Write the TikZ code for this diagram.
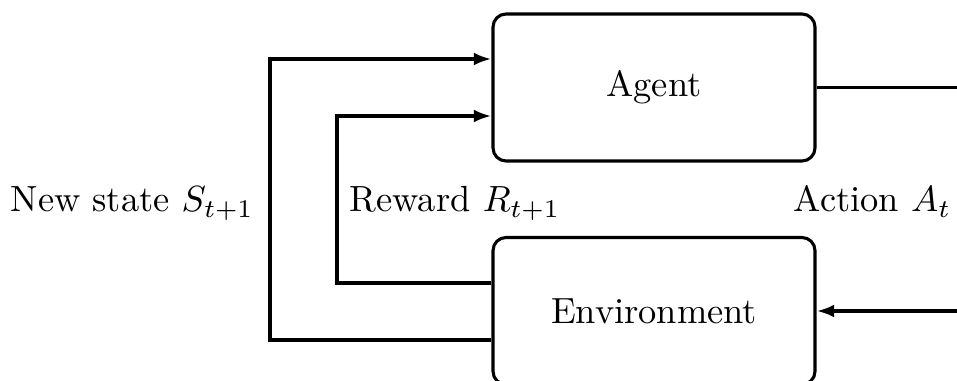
\documentclass[tikz,border=0pt]{standalone}
\usetikzlibrary{arrows.meta}
\begin{document}
\begin{tikzpicture}[x=0.2747pt,y=-0.2747pt,
  box/.style={draw, line width=0.85pt, rounded corners=3.6pt,
    minimum width=88.45pt, minimum height=40.4pt, inner sep=0pt},
  conn/.style={line width=0.95pt},
  arr/.style={conn, -{Latex[length=4.8pt,width=3.5pt]}},
  lbl/.style={anchor=base west, inner sep=0pt}]
\useasboundingbox (0,0) rectangle (957,381);
\node[box] (agent) at (654,87.5) {Agent};
\node[box] (env) at (654,311) {Environment};
\coordinate (ob) at (270,340);
\coordinate (ot) at (270,59);
\coordinate (ib) at (337,283);
\coordinate (it) at (337,116);
\coordinate (ar) at (957,87.5);
\coordinate (er) at (957,311);
\draw[arr] (env.west |- ob) -- (ob) -- (ot) -- (agent.west |- ot);
\draw[arr] (env.west |- ib) -- (ib) -- (it) -- (agent.west |- it);
\draw[conn] (agent.east) -- (ar);
\draw[arr] (er) -- (env.east);
\node[lbl] (ls) at (10,212) {New state $S_{t+1}$};
\node[lbl] (lr) at (349,212) {Reward $R_{t+1}$};
\node[lbl] (la) at (793,212) {Action $A_t$};
\end{tikzpicture}
\end{document}
